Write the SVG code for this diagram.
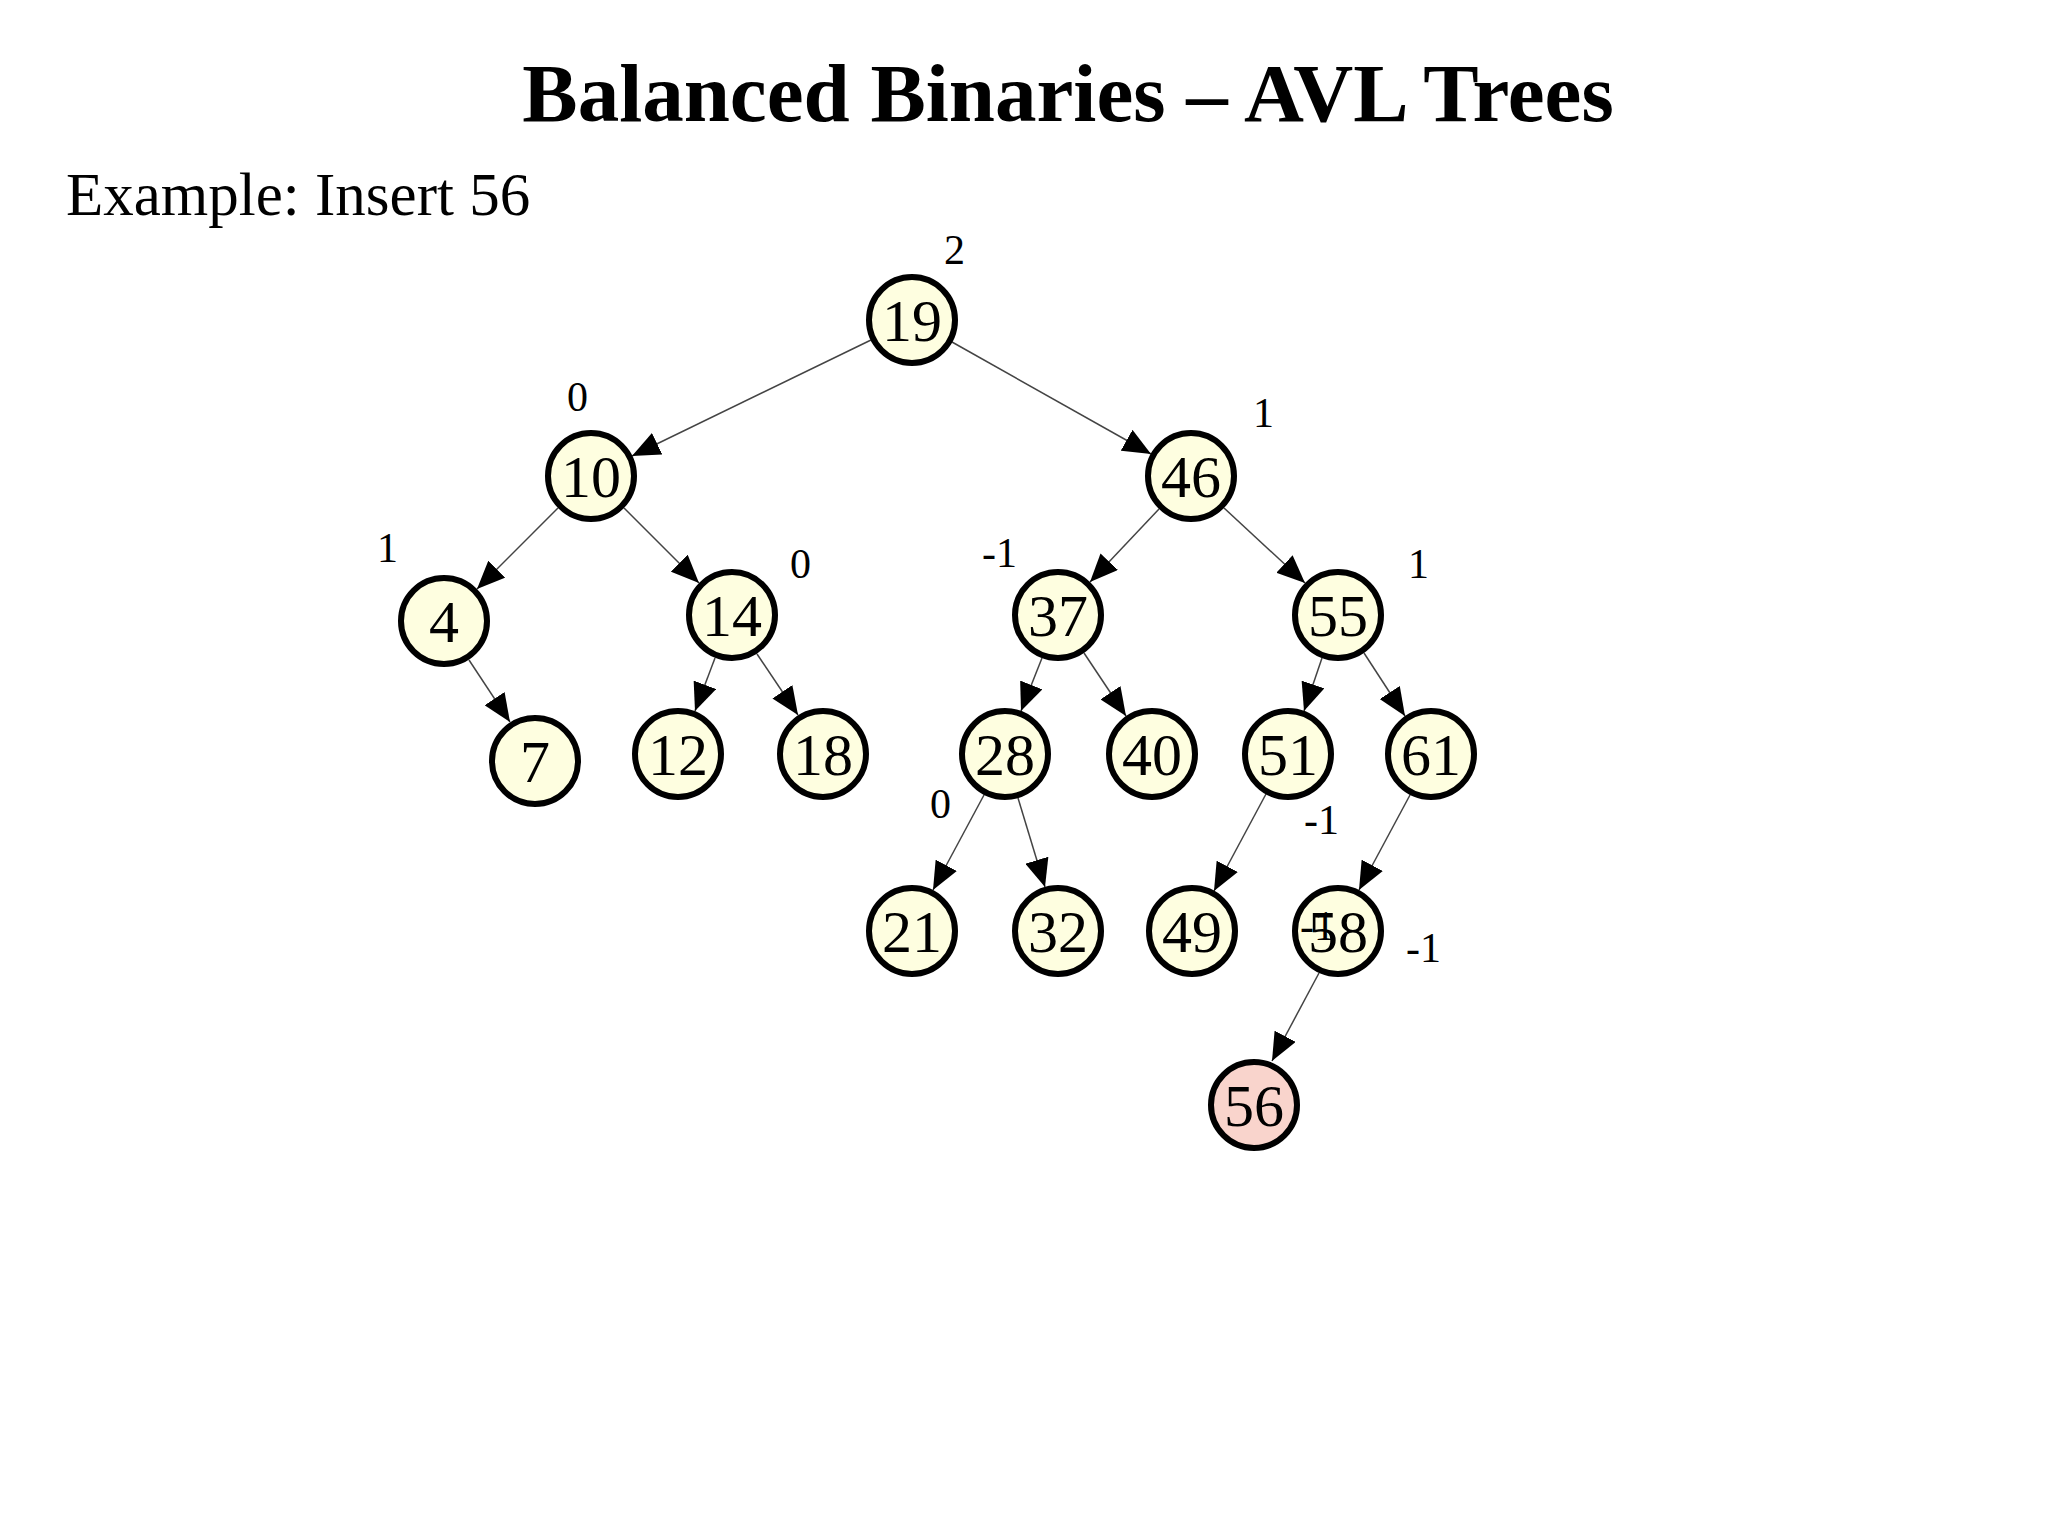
<svg xmlns="http://www.w3.org/2000/svg" width="2048" height="1535" viewBox="0 0 2048 1535">
<style>
.n circle{fill:#fefee0;stroke:#000;stroke-width:6}
.n.new circle{fill:#f9d4cc}
.n text{font-family:"Liberation Serif",serif;font-size:60px;text-anchor:middle;fill:#000}
.b{font-family:"Liberation Serif",serif;font-size:42px;fill:#000}
#edges line{stroke:#444;stroke-width:1.5;marker-end:url(#ah)}
</style>
<defs>
<marker id="ah" markerUnits="userSpaceOnUse" markerWidth="30" markerHeight="24" refX="28" refY="12" orient="auto"><path d="M0,0 L28,12 L0,24 Z" fill="#000"/></marker>
</defs>
<rect width="2048" height="1535" fill="#fff"/>
<text x="1068" y="121" font-family="Liberation Serif,serif" font-weight="bold" font-size="83" text-anchor="middle">Balanced Binaries – AVL Trees</text>
<text x="66" y="215" font-family="Liberation Serif,serif" font-size="61">Example: Insert 56</text>
<g id="edges" transform="translate(0,-7)">
<line x1="871" y1="347" x2="632" y2="463"/>
<line x1="952" y1="349" x2="1151" y2="461"/>
<line x1="558" y1="515" x2="477" y2="596"/>
<line x1="624" y1="515" x2="699" y2="590"/>
<line x1="1159" y1="516" x2="1090" y2="589"/>
<line x1="1224" y1="515" x2="1305" y2="590"/>
<line x1="469" y1="667" x2="510" y2="729"/>
<line x1="715" y1="665" x2="695" y2="718"/>
<line x1="757" y1="661" x2="798" y2="722"/>
<line x1="1042" y1="665" x2="1021" y2="718"/>
<line x1="1084" y1="660" x2="1126" y2="723"/>
<line x1="1322" y1="665" x2="1304" y2="718"/>
<line x1="1364" y1="660" x2="1405" y2="723"/>
<line x1="984" y1="802" x2="933" y2="897"/>
<line x1="1018" y1="805" x2="1045" y2="894"/>
<line x1="1266" y1="801" x2="1214" y2="898"/>
<line x1="1410" y1="802" x2="1359" y2="897"/>
<line x1="1319" y1="980" x2="1272" y2="1068"/>
</g>
<g transform="translate(0,-7)">
<g id="n19" class="n"><circle cx="912" cy="327" r="43"/><text x="912" y="348">19</text></g>
<g id="n10" class="n"><circle cx="591" cy="483" r="43"/><text x="591" y="504">10</text></g>
<g id="n46" class="n"><circle cx="1191" cy="483" r="43"/><text x="1191" y="504">46</text></g>
<g id="n4" class="n"><circle cx="444" cy="628" r="43"/><text x="444" y="649">4</text></g>
<g id="n14" class="n"><circle cx="732" cy="622" r="43"/><text x="732" y="643">14</text></g>
<g id="n37" class="n"><circle cx="1058" cy="622" r="43"/><text x="1058" y="643">37</text></g>
<g id="n55" class="n"><circle cx="1338" cy="622" r="43"/><text x="1338" y="643">55</text></g>
<g id="n7" class="n"><circle cx="535" cy="768" r="43"/><text x="535" y="789">7</text></g>
<g id="n12" class="n"><circle cx="678" cy="761" r="43"/><text x="678" y="782">12</text></g>
<g id="n18" class="n"><circle cx="823" cy="761" r="43"/><text x="823" y="782">18</text></g>
<g id="n28" class="n"><circle cx="1005" cy="761" r="43"/><text x="1005" y="782">28</text></g>
<g id="n40" class="n"><circle cx="1152" cy="761" r="43"/><text x="1152" y="782">40</text></g>
<g id="n51" class="n"><circle cx="1288" cy="761" r="43"/><text x="1288" y="782">51</text></g>
<g id="n61" class="n"><circle cx="1431" cy="761" r="43"/><text x="1431" y="782">61</text></g>
<g id="n21" class="n"><circle cx="912" cy="938" r="43"/><text x="912" y="959">21</text></g>
<g id="n32" class="n"><circle cx="1058" cy="938" r="43"/><text x="1058" y="959">32</text></g>
<g id="n49" class="n"><circle cx="1192" cy="938" r="43"/><text x="1192" y="959">49</text></g>
<g id="n58" class="n"><circle cx="1338" cy="938" r="43"/><text x="1338" y="959">58</text></g>
<g id="n56" class="n new"><circle cx="1254" cy="1112" r="43"/><text x="1254" y="1133">56</text></g>
</g>
<g id="labels">
<text class="b" x="944" y="264">2</text>
<text class="b" x="567" y="411">0</text>
<text class="b" x="1253" y="427">1</text>
<text class="b" x="377" y="562">1</text>
<text class="b" x="790" y="578">0</text>
<text class="b" x="982" y="567">-1</text>
<text class="b" x="1408" y="578">1</text>
<text class="b" x="930" y="818">0</text>
<text class="b" x="1304" y="834">-1</text>
<text class="b" x="1300" y="940">-1</text>
<text class="b" x="1406" y="962">-1</text>
</g>
</svg>
